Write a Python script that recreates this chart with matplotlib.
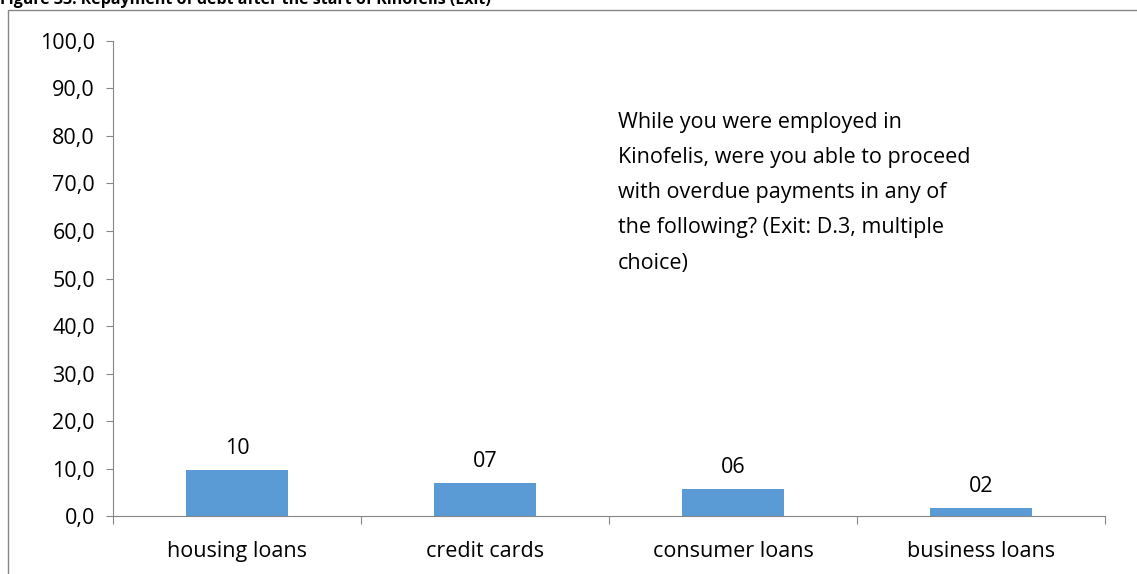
import matplotlib.pyplot as plt
from matplotlib.patches import Rectangle

# data
categories = ["housing loans", "credit cards", "consumer loans", "business loans"]
values = [9.7, 6.9, 5.7, 1.7]
labels = ["10", "07", "06", "02"]
yticks = [0, 10, 20, 30, 40, 50, 60, 70, 80, 90, 100]

plt.rcParams['font.family'] = ['Open Sans', 'DejaVu Sans']

fig = plt.figure(figsize=(11.37, 5.74), dpi=100)
ax = fig.add_axes([0.0994, 0.101, 0.8726, 0.8276])

x = range(len(categories))
ax.bar(x, values, width=0.41, color='#5b9bd5')
for i, v in enumerate(values):
    ax.text(i, v + 4.6, labels[i], ha='center', va='center', fontsize=15.5)

ax.set_xlim(-0.5, 3.5)
ax.set_ylim(0, 100)
ax.set_yticks(yticks)
ax.set_yticklabels([("%.1f" % t).replace('.', ',') for t in yticks], fontsize=15.5)
ax.set_xticks([-0.5, 0.5, 1.5, 2.5, 3.5])
ax.set_xticklabels([])
ax.set_xticks(list(x), minor=True)
ax.set_xticklabels(categories, minor=True, fontsize=15.5)
ax.tick_params(axis='x', which='minor', length=0, pad=18)
ax.tick_params(axis='x', which='major', length=6, color='#868686')
ax.tick_params(axis='y', length=5, color='#868686', pad=8)
for s in ['top', 'right']:
    ax.spines[s].set_visible(False)
for s in ['left', 'bottom']:
    ax.spines[s].set_color('#868686')

ax.text(1.535, 85.0, "While you were employed in\nKinofelis, were you able to proceed\n"
        "with overdue payments in any of\nthe following? (Exit: D.3, multiple\nchoice)",
        ha='left', va='top', fontsize=15.5, linespacing=1.88)

# outer frame and clipped title
fig.patches.append(Rectangle((8 / 1137, -0.1), 1.2, 1 - 10 / 574 + 0.1,
                             transform=fig.transFigure, fill=False,
                             edgecolor='#868686', linewidth=1))
fig.text(0.0, 1.0, "Figure 33: Repayment of debt after the start of Kinofelis (Exit)",
         ha='left', va='center', fontsize=11.5, fontweight='bold')

fig.savefig("out.png", dpi=100)
